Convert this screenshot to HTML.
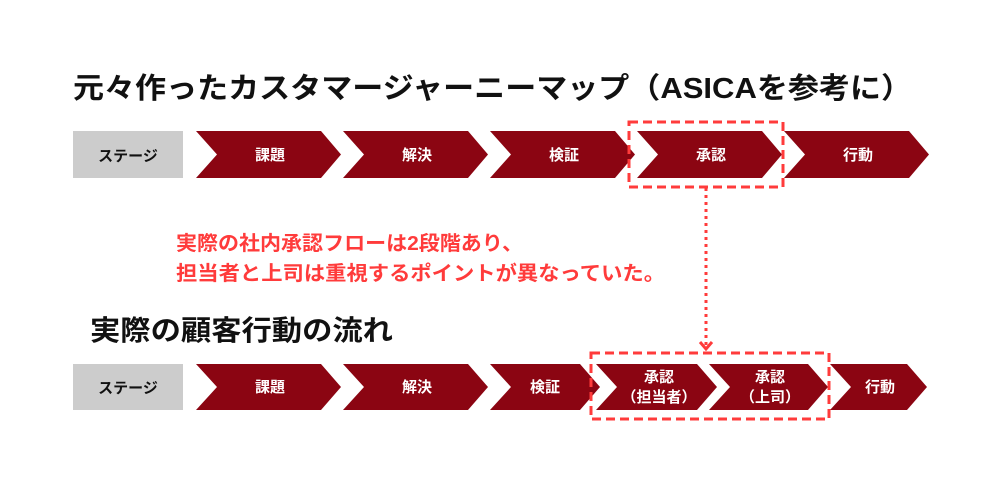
<!DOCTYPE html>
<html><head><meta charset="utf-8"><style>
html,body{margin:0;padding:0;background:#fff;width:1000px;height:500px;overflow:hidden}
text{font-family:"Liberation Sans","Noto Sans CJK JP",sans-serif;font-weight:bold}
</style></head><body>
<svg width="1000" height="500" viewBox="0 0 1000 500" xmlns="http://www.w3.org/2000/svg">
<text x="73" y="98" font-size="29" fill="#111" textLength="839" lengthAdjust="spacingAndGlyphs">元々作ったカスタマージャーニーマップ（ASICAを参考に）</text>

<!-- top row -->
<rect x="73" y="131" width="110" height="47" fill="#cccccc"/>
<text x="128" y="161" font-size="15" fill="#111" text-anchor="middle">ステージ</text>
<g fill="#8b0512">
<polygon points="196,131 321,131 341,154.5 321,178 196,178 217,154.5"/>
<polygon points="343,131 468,131 488,154.5 468,178 343,178 364,154.5"/>
<polygon points="490,131 615,131 635,154.5 615,178 490,178 511,154.5"/>
<polygon points="637,131 762,131 782,154.5 762,178 637,178 658,154.5"/>
<polygon points="784,131 909,131 929,154.5 909,178 784,178 805,154.5"/>
</g>
<g fill="#fff" font-size="15" text-anchor="middle">
<text x="270" y="160">課題</text>
<text x="417" y="160">解決</text>
<text x="564" y="160">検証</text>
<text x="711" y="160">承認</text>
<text x="858" y="160">行動</text>
</g>
<rect x="629" y="122" width="154" height="65" fill="none" stroke="#ff3b3b" stroke-width="3" stroke-dasharray="9,5"/>

<line x1="706" y1="188" x2="706" y2="348" stroke="#ff3b3b" stroke-width="3" stroke-dasharray="3,4"/>
<polyline points="700,342 706,349 712,342" fill="none" stroke="#ff3b3b" stroke-width="3"/>

<text x="176" y="250" font-size="20" fill="#ff3b3b" textLength="347" lengthAdjust="spacingAndGlyphs">実際の社内承認フローは2段階あり、</text>
<text x="176" y="280" font-size="20" fill="#ff3b3b" textLength="489" lengthAdjust="spacingAndGlyphs">担当者と上司は重視するポイントが異なっていた。</text>

<text x="90" y="340" font-size="28" fill="#111" textLength="303" lengthAdjust="spacingAndGlyphs">実際の顧客行動の流れ</text>

<!-- bottom row -->
<rect x="73" y="364" width="110" height="46" fill="#cccccc"/>
<text x="128" y="393" font-size="15" fill="#111" text-anchor="middle">ステージ</text>
<g fill="#8b0512">
<polygon points="196,364 321,364 341,387 321,410 196,410 217,387"/>
<polygon points="343,364 468,364 488,387 468,410 343,410 364,387"/>
<polygon points="490,364 580,364 600,387 580,410 490,410 511,387"/>
<polygon points="596,364 697,364 717,387 697,410 596,410 617,387"/>
<polygon points="709,364 808,364 828,387 808,410 709,410 730,387"/>
<polygon points="830,364 907,364 927,387 907,410 830,410 851,387"/>
</g>
<g fill="#fff" font-size="15" text-anchor="middle">
<text x="270" y="392">課題</text>
<text x="417" y="392">解決</text>
<text x="545" y="392">検証</text>
<text x="659" y="382">承認</text>
<text x="659" y="402">（担当者）</text>
<text x="770" y="382">承認</text>
<text x="770" y="402">（上司）</text>
<text x="880" y="392">行動</text>
</g>
<rect x="591" y="353" width="238" height="66" fill="none" stroke="#ff3b3b" stroke-width="3" stroke-dasharray="9,5"/>
</svg>
</body></html>
